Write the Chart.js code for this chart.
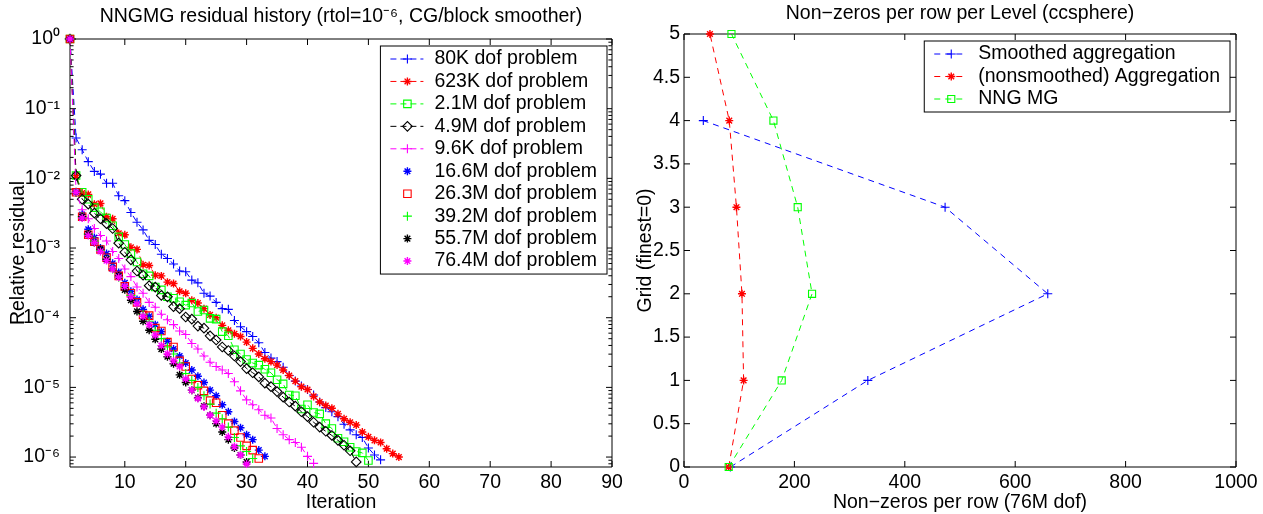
<!DOCTYPE html>
<html>
<head>
<meta charset="utf-8">
<script src="https://cdn.jsdelivr.net/npm/chart.js"></script>
<style>
  html, body { margin: 0; padding: 0; background: #fff; overflow: hidden; }
  #left { position: absolute; left: 0; top: 0; }
  #right { position: absolute; left: 630px; top: 0; }
</style>
</head>
<body>
<canvas id="left" width="630" height="514"></canvas>
<canvas id="right" width="633" height="514"></canvas>
<script>
// ---- left panel: residual history (values are log10 of the relative residual)
const iterations = [1,2,3,4,5,6,7,8,9,10,11,12,13,14,15,16,17,18,19,20,21,22,23,24,25,26,27,28,
  29,30,31,32,33,34,35,36,37,38,39,40,41,42,43,44,45,46,47,48,49,50,51,52,53,54,55];
const iterTicks = [10, 20, 30, 40, 50, 60, 70, 80, 90];
const residualTicks = [1e-6, 1e-5, 1e-4, 1e-3, 1e-2, 1e-1, 1];
const residualTickLabels = ['10⁻⁶', '10⁻⁵', '10⁻⁴', '10⁻³', '10⁻²', '10⁻¹', '10⁰'];

const res80K = [0, -1.42, -1.59, -1.76, -1.90, -1.94, -2.07, -2.07, -2.25, -2.32, -2.49, -2.63, -2.74,
  -2.89, -2.95, -3.09, -3.15, -3.23, -3.33, -3.34, -3.46, -3.50, -3.65, -3.69, -3.78, -3.87, -3.88,
  -4.04, -4.13, -4.20, -4.27, -4.36, -4.50, -4.58, -4.63, -4.71, -4.83, -4.91, -4.98, -5.03, -5.11,
  -5.21, -5.29, -5.35, -5.42, -5.53, -5.61, -5.68, -5.72, -5.87, -5.97, -6.04];
const res623K = [0, -1.96, -2.21, -2.23, -2.37, -2.36, -2.55, -2.58, -2.79, -2.81, -2.99, -3.02, -3.24,
  -3.25, -3.39, -3.40, -3.49, -3.51, -3.62, -3.65, -3.75, -3.79, -3.87, -3.96, -4.00, -4.11, -4.18,
  -4.23, -4.27, -4.35, -4.44, -4.52, -4.59, -4.63, -4.68, -4.75, -4.83, -4.91, -4.99, -5.03, -5.13,
  -5.21, -5.26, -5.30, -5.38, -5.45, -5.50, -5.54, -5.64, -5.71, -5.76, -5.79, -5.88, -5.95, -6.00];
const res2_1M = [0, -1.96, -2.20, -2.30, -2.42, -2.48, -2.57, -2.68, -2.84, -2.95, -3.08, -3.20, -3.37,
  -3.40, -3.56, -3.60, -3.70, -3.72, -3.77, -3.82, -3.79, -3.91, -3.89, -4.01, -4.02, -4.20, -4.26,
  -4.46, -4.52, -4.60, -4.65, -4.68, -4.74, -4.79, -4.89, -4.95, -5.11, -5.12, -5.31, -5.25, -5.36,
  -5.38, -5.52, -5.59, -5.73, -5.78, -5.86, -5.92, -5.94, -6.05];
const res4_9M = [0, -1.96, -2.30, -2.37, -2.50, -2.58, -2.65, -2.72, -2.93, -3.06, -3.17, -3.33, -3.39,
  -3.54, -3.56, -3.68, -3.70, -3.84, -3.87, -3.99, -4.02, -4.12, -4.15, -4.26, -4.32, -4.42, -4.47,
  -4.55, -4.63, -4.73, -4.79, -4.85, -4.94, -4.99, -5.06, -5.14, -5.21, -5.27, -5.35, -5.42, -5.50,
  -5.57, -5.63, -5.69, -5.76, -5.83, -5.91, -6.07];
const res9_6K = [0, -2.20, -2.45, -2.58, -2.72, -2.82, -2.90, -3.05, -3.15, -3.30, -3.41, -3.56, -3.65,
  -3.78, -3.85, -3.95, -4.03, -4.10, -4.19, -4.24, -4.37, -4.45, -4.55, -4.64, -4.70, -4.75, -4.80,
  -4.92, -5.05, -5.18, -5.25, -5.32, -5.40, -5.44, -5.59, -5.68, -5.75, -5.79, -5.86, -5.99, -6.09];
const res16_6M = [0, -2.20, -2.52, -2.73, -2.85, -3.00, -3.08, -3.22, -3.35, -3.50, -3.62, -3.74, -3.88,
  -3.98, -4.10, -4.20, -4.34, -4.45, -4.55, -4.65, -4.75, -4.84, -4.93, -5.04, -5.12, -5.25, -5.35,
  -5.49, -5.58, -5.68, -5.75, -5.90, -5.99];
const res26_3M = [0, -2.20, -2.55, -2.81, -2.91, -3.02, -3.14, -3.27, -3.40, -3.55, -3.65, -3.78, -3.96,
  -3.97, -4.15, -4.19, -4.35, -4.42, -4.62, -4.70, -4.88, -4.97, -5.05, -5.19, -5.22, -5.40, -5.52,
  -5.62, -5.72, -5.84, -5.90, -6.02];
const res39_2M = [0, -2.20, -2.55, -2.80, -2.90, -3.04, -3.16, -3.30, -3.42, -3.56, -3.68, -3.80, -3.95,
  -4.05, -4.18, -4.30, -4.42, -4.52, -4.65, -4.80, -4.90, -5.00, -5.12, -5.24, -5.37, -5.45, -5.57,
  -5.72, -5.84, -5.92, -6.02];
const res55_7M = [0, -2.20, -2.55, -2.80, -2.92, -3.02, -3.16, -3.30, -3.40, -3.60, -3.75, -3.91, -4.05,
  -4.18, -4.31, -4.45, -4.56, -4.66, -4.82, -4.93, -5.04, -5.15, -5.27, -5.40, -5.52, -5.64, -5.75,
  -5.87, -5.97, -6.07];
const res76_4M = [0, -2.20, -2.57, -2.82, -2.92, -3.05, -3.18, -3.30, -3.42, -3.55, -3.70, -3.80, -3.98,
  -4.10, -4.25, -4.40, -4.52, -4.62, -4.70, -4.88, -5.04, -5.16, -5.28, -5.40, -5.48, -5.57, -5.71,
  -5.85, -5.97, -6.10];

// ---- right panel: non-zeros per row on each grid level
const gridLevels = [0, 1, 2, 3, 4, 5];
const nnzSmoothedAgg = [84, 333, 659, 473, 35];
const nnzAggregation = [81, 108, 105, 95, 82, 47];
const nnzNngMg = [81, 177, 232, 206, 162, 86];
const nnzTicks = [0, 200, 400, 600, 800, 1000];
const levelTicks = [0, 0.5, 1, 1.5, 2, 2.5, 3, 3.5, 4, 4.5, 5];

const FONT = '"Liberation Sans", Arial, Helvetica, sans-serif';
const FS = 19.5;
Chart.defaults.font.family = FONT;
Chart.defaults.font.size = FS;
Chart.defaults.color = '#000';

const BLUE = '#0000ff', RED = '#ff0000', GREEN = '#00ff00', BLACK = '#000000', MAGENTA = '#ff00ff';

function dataset(label, pts, color, marker, radius, line) {
  return {
    label: label, data: pts,
    borderColor: color, backgroundColor: 'rgba(0,0,0,0)',
    borderWidth: 1, borderDash: [6, 4], showLine: line, fill: false, tension: 0,
    pointStyle: marker, pointRadius: radius,
    pointBorderWidth: marker === 'star' ? 1.4 : 1.1,   // MATLAB '*' looks heavier
    pointBackgroundColor: 'rgba(0,0,0,0)', pointBorderColor: color,
    pointHoverRadius: radius, clip: false
  };
}
function residualPoints(exps) {
  return exps.map((e, k) => ({ x: iterations[k], y: 10 ** e }));
}

// MATLAB-like box, inward tick marks and a boxed legend
const matlabFrame = {
  id: 'matlabFrame',
  beforeDatasetsDraw(chart, args, o) {
    const { ctx, chartArea: a } = chart;
    const xs = chart.scales.x, ys = chart.scales.y;
    ctx.save();
    ctx.strokeStyle = '#000';
    ctx.lineWidth = 1;
    ctx.beginPath();
    ctx.rect(a.left, a.top, a.right - a.left, a.bottom - a.top);
    xs.ticks.forEach(t => {
      const px = xs.getPixelForValue(t.value);
      ctx.moveTo(px, a.bottom); ctx.lineTo(px, a.bottom - o.tick);
      ctx.moveTo(px, a.top); ctx.lineTo(px, a.top + o.tick);
    });
    ys.ticks.forEach(t => {
      const py = ys.getPixelForValue(t.value);
      ctx.moveTo(a.left, py); ctx.lineTo(a.left + o.tick, py);
      ctx.moveTo(a.right, py); ctx.lineTo(a.right - o.tick, py);
    });
    if (o.minorLog) {
      ys.ticks.forEach(t => {
        for (let k = 2; k <= 9; k++) {
          const v = t.value * k / 10;
          if (v < ys.min || v > ys.max) continue;
          const py = ys.getPixelForValue(v);
          ctx.moveTo(a.left, py); ctx.lineTo(a.left + o.tick * 0.6, py);
          ctx.moveTo(a.right, py); ctx.lineTo(a.right - o.tick * 0.6, py);
        }
      });
    }
    ctx.stroke();
    ctx.restore();
  },
  afterDatasetsDraw(chart, args, o) {
    const { ctx, chartArea: a } = chart;
    const sets = chart.data.datasets;
    ctx.save();
    ctx.font = FS + 'px ' + FONT;
    const textW = Math.max(...sets.map(d => ctx.measureText(d.label).width));
    const w = 54 + textW + 10;
    const h = 26 + (sets.length - 1) * o.rowH;
    const left = a.right - o.right - w, top = a.top + o.top;
    ctx.fillStyle = '#fff';
    ctx.fillRect(left, top, w, h);
    ctx.strokeStyle = '#000';
    ctx.lineWidth = 1;
    ctx.strokeRect(left, top, w, h);
    sets.forEach((d, i) => {
      const y = top + 13 + i * o.rowH;
      ctx.strokeStyle = d.borderColor;
      if (d.showLine) {
        ctx.lineWidth = d.borderWidth;
        ctx.setLineDash(d.borderDash);
        ctx.beginPath();
        ctx.moveTo(left + 10, y);
        ctx.lineTo(left + 43, y);
        ctx.stroke();
        ctx.setLineDash([]);
      }
      ctx.lineWidth = d.pointBorderWidth;
      ctx.fillStyle = 'rgba(0,0,0,0)';
      Chart.helpers.drawPoint(ctx, { pointStyle: d.pointStyle, radius: d.pointRadius,
        borderWidth: d.pointBorderWidth, rotation: 0 }, left + 27, y);
      ctx.fillStyle = '#000';
      ctx.textBaseline = 'middle';
      ctx.textAlign = 'left';
      ctx.fillText(d.label, left + 54, y);
    });
    ctx.restore();
  }
};

function axisStyle(extra) {
  return Object.assign({
    grid: { display: false, drawTicks: false },
    border: { display: false }
  }, extra);
}

const leftSets = [
  dataset('80K dof problem', residualPoints(res80K), BLUE, 'cross', 4.5, true),
  dataset('623K dof problem', residualPoints(res623K), RED, 'star', 4, true),
  dataset('2.1M dof problem', residualPoints(res2_1M), GREEN, 'rect', 5.3, true),
  dataset('4.9M dof problem', residualPoints(res4_9M), BLACK, 'rectRot', 4.8, true),
  dataset('9.6K dof problem', residualPoints(res9_6K), MAGENTA, 'cross', 4.5, true),
  dataset('16.6M dof problem', residualPoints(res16_6M), BLUE, 'star', 4, false),
  dataset('26.3M dof problem', residualPoints(res26_3M), RED, 'rect', 5.3, false),
  dataset('39.2M dof problem', residualPoints(res39_2M), GREEN, 'cross', 4.5, false),
  dataset('55.7M dof problem', residualPoints(res55_7M), BLACK, 'star', 4, false),
  dataset('76.4M dof problem', residualPoints(res76_4M), MAGENTA, 'star', 4, false)
];
leftSets.forEach((d, i) => { d.order = -i; });

new Chart(document.getElementById('left'), {
  type: 'line',
  data: { datasets: leftSets },
  options: {
    responsive: false, animation: false, devicePixelRatio: 1, events: [],
    layout: { padding: { left: 0, right: 18, top: 0, bottom: 0 } },
    plugins: {
      legend: { display: false },
      tooltip: { enabled: false },
      title: {
        display: true, fullSize: false, color: '#000',
        text: 'NNGMG residual history (rtol=10⁻⁶, CG/block smoother)',
        font: { size: FS, weight: 'normal' }, padding: { top: 5, bottom: 10.6 }
      },
      matlabFrame: { tick: 6, minorLog: true, right: 5, top: 7, rowH: 22.45 }
    },
    scales: {
      x: axisStyle({
        type: 'linear', min: 1, max: 90,
        afterBuildTicks: s => { s.ticks = iterTicks.map(v => ({ value: v })); },
        afterFit: s => { s.height = 47; },
        ticks: { padding: 4.3, autoSkip: false, maxRotation: 0, callback: v => String(v) },
        title: { display: true, text: 'Iteration', padding: { top: 0, bottom: 0 } }
      }),
      y: axisStyle({
        type: 'logarithmic', min: 7.2e-7, max: 1,
        afterBuildTicks: s => { s.ticks = residualTicks.map(v => ({ value: v })); },
        afterFit: s => { s.width = 70; },
        ticks: { padding: 10, autoSkip: false, callback: (v, i) => residualTickLabels[i] },
        title: { display: true, text: 'Relative residual', padding: { top: 6.7, bottom: 0 } }
      })
    }
  },
  plugins: [matlabFrame]
});

const rightSets = [
  dataset('Smoothed aggregation', nnzSmoothedAgg.map((v, k) => ({ x: v, y: gridLevels[k] })), BLUE, 'cross', 4.5, true),
  dataset('(nonsmoothed) Aggregation', nnzAggregation.map((v, k) => ({ x: v, y: gridLevels[k] })), RED, 'star', 4, true),
  dataset('NNG MG', nnzNngMg.map((v, k) => ({ x: v, y: gridLevels[k] })), GREEN, 'rect', 5, true)
];
rightSets.forEach((d, i) => { d.order = -i; d.borderDash = [6, 5]; });

new Chart(document.getElementById('right'), {
  type: 'line',
  data: { datasets: rightSets },
  options: {
    responsive: false, animation: false, devicePixelRatio: 1, events: [],
    layout: { padding: { left: 0, right: 27, top: 0, bottom: 0 } },
    plugins: {
      legend: { display: false },
      tooltip: { enabled: false },
      title: {
        display: true, fullSize: false, color: '#000',
        text: 'Non−zeros per row per Level (ccsphere)',
        font: { size: FS, weight: 'normal' }, padding: { top: 1.6, bottom: 9 }
      },
      matlabFrame: { tick: 6, minorLog: false, right: 6, top: 7, rowH: 22.5 }
    },
    scales: {
      x: axisStyle({
        type: 'linear', min: 0, max: 1000,
        afterBuildTicks: s => { s.ticks = nnzTicks.map(v => ({ value: v })); },
        afterFit: s => { s.height = 47; },
        ticks: { padding: 4.3, autoSkip: false, maxRotation: 0, callback: v => String(v) },
        title: { display: true, text: 'Non−zeros per row (76M dof)', padding: { top: 0, bottom: 0 } }
      }),
      y: axisStyle({
        type: 'linear', min: 0, max: 5,
        afterBuildTicks: s => { s.ticks = levelTicks.map(v => ({ value: v })); },
        afterFit: s => { s.width = 54; },
        ticks: { padding: 4, autoSkip: false, callback: v => String(v) },
        title: { display: true, text: 'Grid (finest=0)', padding: { top: 4.3, bottom: 0 } }
      })
    }
  },
  plugins: [matlabFrame]
});
</script>
</body>
</html>
